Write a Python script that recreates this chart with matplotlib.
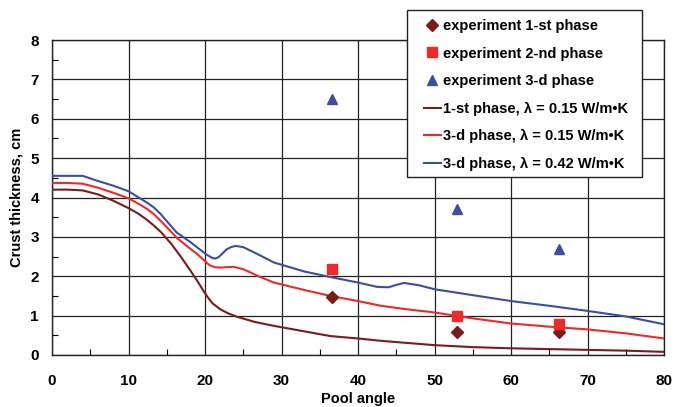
import matplotlib
matplotlib.use("Agg")
import matplotlib.pyplot as plt
from matplotlib.ticker import MultipleLocator
from matplotlib.patches import Rectangle

plt.rcParams['font.family'] = ['Liberation Sans', 'DejaVu Sans']
plt.rcParams['font.weight'] = 'bold'

# Experimental points
exp_angle = [36.6, 53.0, 66.3]
exp1_thick = [1.47, 0.58, 0.58]
exp2_thick = [2.19, 0.99, 0.79]
exp3_thick = [6.5, 3.7, 2.68]

# Calculated crust profiles
ph1_angle = [0, 2, 4, 6, 8, 10, 11.2, 12.3, 13.3, 14.3, 15.6, 16.9, 18, 19, 19.7, 20.3, 21, 22, 23, 24.2, 26.5, 29, 33, 36.4, 40, 43, 50, 55, 60, 65, 70, 75, 80]
ph1_thick = [4.2, 4.2, 4.18, 4.08, 3.92, 3.73, 3.6, 3.45, 3.29, 3.11, 2.82, 2.48, 2.17, 1.88, 1.66, 1.48, 1.31, 1.16, 1.06, 0.97, 0.84, 0.74, 0.6, 0.48, 0.42, 0.36, 0.25, 0.2, 0.17, 0.15, 0.13, 0.11, 0.08]

ph3a_angle = [0, 2, 4, 6, 8, 10, 11.5, 12.5, 13.3, 14.8, 16.3, 17.8, 19, 19.9, 20.6, 21.3, 22, 23.7, 25, 27, 29, 33, 36.4, 40, 43, 46, 50, 55, 60, 65, 70, 75, 80]
ph3a_thick = [4.37, 4.37, 4.35, 4.25, 4.12, 3.98, 3.82, 3.7, 3.58, 3.29, 2.98, 2.74, 2.56, 2.4, 2.28, 2.23, 2.22, 2.24, 2.18, 2.0, 1.84, 1.65, 1.5, 1.37, 1.25, 1.17, 1.08, 0.93, 0.8, 0.72, 0.65, 0.55, 0.42]

ph3b_angle = [0, 2, 4, 6, 8, 10, 11.5, 12.5, 13.3, 14.2, 15, 16.3, 18, 19, 20.2, 21, 21.4, 21.8, 22.3, 22.8, 23.4, 24, 25, 27, 29, 33, 36.4, 40, 42.5, 44, 45, 46, 48, 50, 55, 60, 65, 70, 75, 80]
ph3b_thick = [4.55, 4.55, 4.55, 4.42, 4.3, 4.16, 3.98, 3.86, 3.75, 3.58, 3.4, 3.11, 2.88, 2.73, 2.55, 2.46, 2.45, 2.49, 2.58, 2.68, 2.74, 2.77, 2.74, 2.55, 2.35, 2.12, 1.98, 1.84, 1.73, 1.72, 1.78, 1.83, 1.77, 1.67, 1.52, 1.37, 1.25, 1.12, 0.98, 0.78]

c_dark = '#7a1c1c'
c_red = '#ec2a2a'
c_blue = '#3b4ea2'

W, H = 673, 407
fig = plt.figure(figsize=(W / 100, H / 100), dpi=100)
ax = fig.add_axes([52 / W, 1 - 355 / H, 612 / W, 315 / H])

h1, = ax.plot(exp_angle, exp1_thick, linestyle='none', marker='D', color=c_dark, markersize=6, zorder=5, label='experiment 1-st phase')
h2, = ax.plot(exp_angle, exp2_thick, linestyle='none', marker='s', color=c_red, markersize=7, zorder=5, label='experiment 2-nd phase')
h3, = ax.plot(exp_angle, exp3_thick, linestyle='none', marker='^', color=c_blue, markersize=7, zorder=5, label='experiment 3-d phase')
l1, = ax.plot(ph1_angle, ph1_thick, color=c_dark, lw=1.5, zorder=4, label='1-st phase, λ = 0.15 W/m•K')
l2, = ax.plot(ph3a_angle, ph3a_thick, color=c_red, lw=1.5, zorder=4, label='3-d phase, λ = 0.15 W/m•K')
l3, = ax.plot(ph3b_angle, ph3b_thick, color=c_blue, lw=1.5, zorder=4, label='3-d phase, λ = 0.42 W/m•K')

ax.set_xlim(0, 80)
ax.set_ylim(0, 8)
ax.xaxis.set_major_locator(MultipleLocator(10))
ax.xaxis.set_minor_locator(MultipleLocator(5))
ax.yaxis.set_major_locator(MultipleLocator(1))
ax.yaxis.set_minor_locator(MultipleLocator(0.5))
ax.grid(True, which='major', color='#222222', lw=0.9)
ax.tick_params(which='both', direction='in', top=False, right=False, labelsize=11)
ax.tick_params(axis='x', which='both', pad=13.5)
ax.tick_params(axis='y', which='both', pad=9.5)
ax.tick_params(which='major', length=0)
ax.tick_params(which='minor', length=4, width=0.8)
for s in ax.spines.values():
    s.set_linewidth(1.0)
    s.set_color('#222222')
for lab in ax.get_xticklabels() + ax.get_yticklabels():
    lab.set_fontweight('bold')

ax.set_xlabel('Pool angle', fontsize=10.5, fontweight='bold')
ax.set_ylabel('Crust thickness, cm', fontsize=10.5, fontweight='bold')
ax.xaxis.set_label_coords(0.5, -0.117)
ax.yaxis.set_label_coords(-0.046, 0.5)

# Legend box, overlapping the top of the plot area
box = Rectangle((407 / W, 1 - 177 / H), 235 / W, 167 / H, transform=fig.transFigure,
                facecolor='white', edgecolor='#222222', lw=1.0, zorder=2)
fig.patches.append(box)

leg = fig.legend(handles=[h1, h2, h3, l1, l2, l3], loc='upper left',
                 bbox_to_anchor=(424 / W, 1 - 19 / H), bbox_transform=fig.transFigure,
                 fontsize=10.5, frameon=False, borderpad=0, borderaxespad=0,
                 handlelength=1.15, handletextpad=0.15, labelspacing=0.93)
leg.set_zorder(3)
for t in leg.get_texts():
    t.set_fontweight('bold')

fig.savefig('out.png', dpi=100)
